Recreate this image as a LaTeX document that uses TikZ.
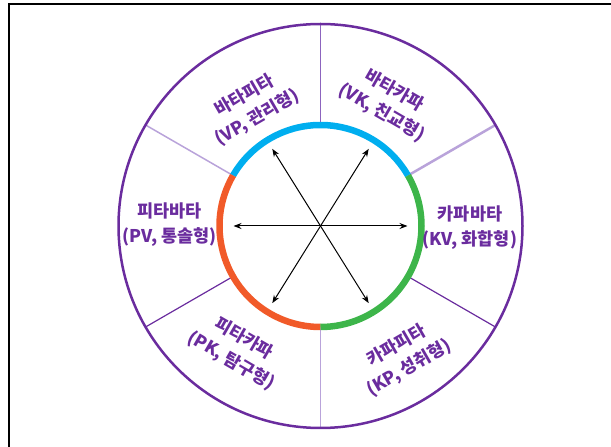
\documentclass[tikz,border=0pt]{standalone}
\usepackage{fontspec}
\newfontfamily\krfont{Noto Sans CJK KR}
\usetikzlibrary{arrows.meta}
\definecolor{wheelpurple}{RGB}{106,44,158}
\definecolor{midpurple}{RGB}{140,100,190}
\definecolor{palepurple}{RGB}{185,163,218}
\definecolor{ringblue}{RGB}{0,174,239}
\definecolor{ringgreen}{RGB}{61,181,74}
\definecolor{ringorange}{RGB}{241,90,41}

\begin{document}
\begin{tikzpicture}[x=1pt,y=1pt,>={Stealth[length=8pt,width=6pt]},
  type/.style={align=center,text=wheelpurple,font=\krfont\bfseries\fontsize{17.5}{25}\selectfont},
  ring/.style={line width=6.5pt}]
  \useasboundingbox (0,0) rectangle (611,447);
  \draw[line width=1.5pt] (9,0)--(9,443)--(611,443);
  \begin{scope}[shift={(320.5,221)}]
    % spokes between inner ring and outer rim
    \draw[midpurple,line width=1.2pt] (90:101)--(90:202);
    \draw[palepurple,line width=2.5pt] (30:101)--(30:202);
    \draw[palepurple,line width=1.5pt] (150:101)--(150:202);
    \draw[wheelpurple,line width=1.2pt] (210:101)--(210:202);
    \draw[palepurple,line width=1.2pt] (270:101)--(270:202);
    \draw[wheelpurple,line width=1.2pt] (330:101)--(330:202);
    \draw[wheelpurple,line width=2.5pt] (0,0) circle[radius=202];
    % coloured inner ring
    \draw[ringblue,ring] (30:101) arc[start angle=30,end angle=150,radius=101];
    \draw[ringorange,ring] (150:101) arc[start angle=150,end angle=270,radius=101];
    \draw[ringgreen,ring] (270:101) arc[start angle=270,end angle=390,radius=101];
    % arrow ends
    \coordinate (kv) at (0:87);
    \coordinate (pv) at (180:87);
    \coordinate (vk) at (58:91);
    \coordinate (pk) at (238:91);
    \coordinate (vp) at (122:91);
    \coordinate (kp) at (302:91);
    \draw[<->,line width=1pt] (pv)--(kv);
    \draw[<->,line width=1pt] (pk)--(vk);
    \draw[<->,line width=1pt] (kp)--(vp);
  \end{scope}
  \node[type,rotate=30] (vplabel) at (251,340) {바타피타\\(VP, 관리형)};
  \node[type,rotate=-30] (vklabel) at (388,345) {바타카파\\(VK, 친교형)};
  \node[type] (kvlabel) at (470,219) {카파바타\\(KV, 화합형)};
  \node[type] (pvlabel) at (169.5,222) {피타바타\\(PV, 통솔형)};
  \node[type,rotate=-30] (pklabel) at (237.5,97) {피타카파\\(PK, 탐구형)};
  \node[type,rotate=30] (kplabel) at (403,90) {카파피타\\(KP, 성취형)};
\end{tikzpicture}
\end{document}
